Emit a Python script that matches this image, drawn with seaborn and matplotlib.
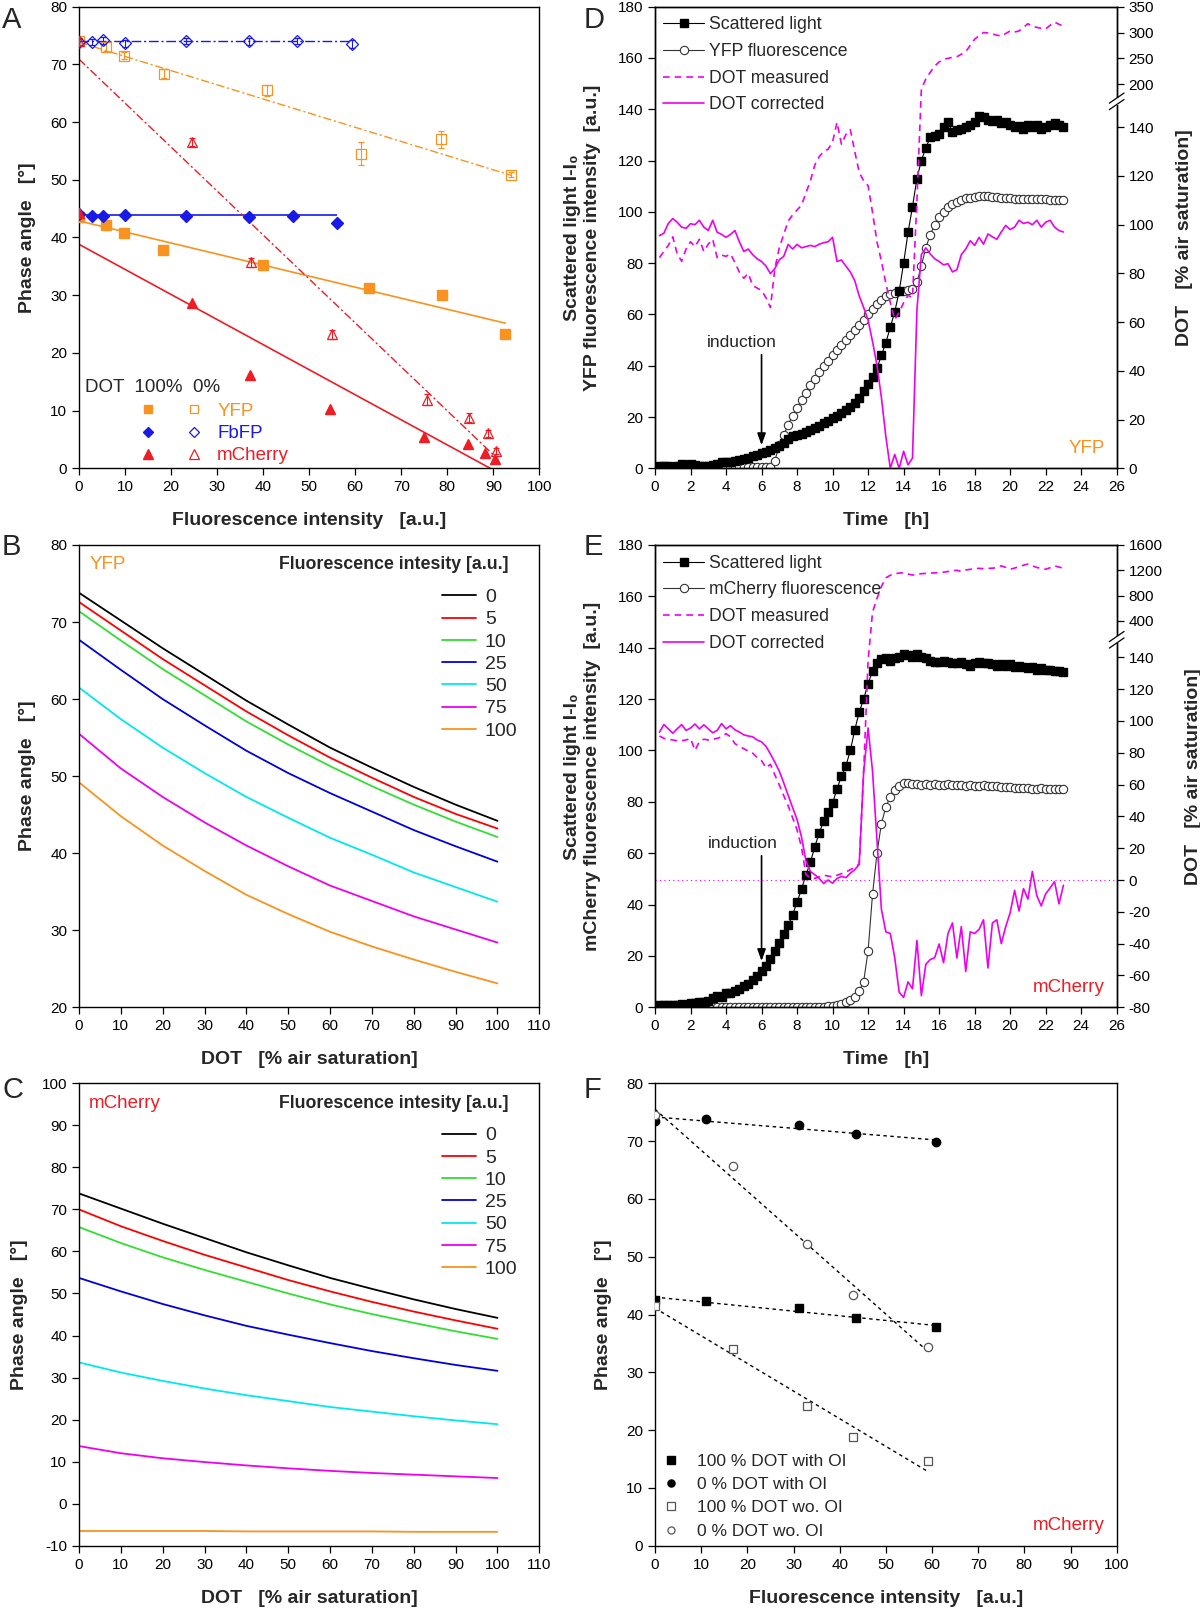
import numpy as np
import pandas as pd
import matplotlib
matplotlib.use("Agg")
import matplotlib.pyplot as plt
import seaborn as sns
from matplotlib.lines import Line2D
from matplotlib.patches import Rectangle
from matplotlib.legend_handler import HandlerTuple
from matplotlib.ticker import NullLocator

# =====================================================
# DATA
# =====================================================
# --- Panel A: phase angle vs. fluorescence intensity (100 % / 0 % DOT)
yfp_x_100 = [0, 5.8, 9.7, 18.2, 40.0, 63.1, 78.9, 92.6]
yfp_y_100 = [43.6, 42.1, 40.7, 37.9, 35.2, 31.2, 30.0, 23.3]
yfp_x_0 = [0, 5.8, 9.7, 18.5, 40.9, 61.2, 78.6, 93.9]
yfp_y_0 = [74.0, 73.1, 71.5, 68.4, 65.5, 54.5, 57.0, 50.9]
yfp_err_0 = [0.6, 0.8, 0.6, 0.8, 0.9, 2.0, 1.5, 0.5]

fbfp_x_100 = [0, 2.8, 5.3, 10.0, 23.2, 37.0, 46.5, 56.1]
fbfp_y_100 = [44.0, 43.7, 43.8, 43.9, 43.8, 43.5, 43.7, 42.5]
fbfp_x_0 = [0, 2.8, 5.3, 10.0, 23.2, 37.0, 47.3, 59.4]
fbfp_y_0 = [73.9, 73.9, 74.2, 73.7, 74.1, 74.0, 74.0, 73.6]
fbfp_err_0 = [0.5, 0.5, 0.6, 0.6, 0.5, 0.6, 0.5, 0.7]
fbfp_level_100 = 43.9
fbfp_level_0 = 74.0

mch_x_100 = [0, 24.5, 37.1, 54.5, 75.0, 84.6, 88.3, 90.4]
mch_y_100 = [44.2, 28.7, 16.1, 10.3, 5.4, 4.2, 2.6, 1.6]
mch_x_0 = [0, 24.5, 37.4, 54.9, 75.7, 84.8, 88.8, 90.7]
mch_y_0 = [74.0, 56.6, 35.7, 23.2, 11.9, 8.8, 6.1, 3.0]
mch_err_0 = [0.6, 0.7, 0.8, 0.8, 0.9, 0.7, 0.6, 0.6]

# --- Panels B / C: calibration curves phase angle vs DOT
dot_grid = [0, 10, 20, 30, 40, 50, 60, 70, 80, 90, 100]
levels = ['0', '5', '10', '25', '50', '75', '100']
level_colors = ['#000000', '#FF0000', '#33DD33', '#0000DD', '#00E8EE', '#EE00EE', '#F7931E']

yfp_0 = [73.8, 70.2, 66.6, 63.2, 59.8, 56.7, 53.7, 51.1, 48.6, 46.3, 44.2]
yfp_5 = [72.6, 68.9, 65.2, 61.8, 58.4, 55.3, 52.4, 49.8, 47.3, 45.1, 43.2]
yfp_10 = [71.4, 67.6, 63.9, 60.5, 57.1, 54.1, 51.3, 48.7, 46.3, 44.1, 42.1]
yfp_25 = [67.7, 63.8, 60.0, 56.6, 53.3, 50.4, 47.8, 45.4, 43.0, 40.9, 38.9]
yfp_50 = [61.5, 57.4, 53.7, 50.4, 47.3, 44.6, 42.0, 39.8, 37.5, 35.6, 33.7]
yfp_75 = [55.5, 51.0, 47.3, 44.0, 41.0, 38.3, 35.8, 33.8, 31.8, 30.1, 28.4]
yfp_100 = [49.2, 44.8, 41.0, 37.7, 34.6, 32.1, 29.8, 27.9, 26.2, 24.6, 23.1]

mch_0 = [73.8, 70.2, 66.6, 63.2, 59.8, 56.7, 53.7, 51.1, 48.6, 46.3, 44.2]
mch_5 = [70.0, 66.0, 62.5, 59.2, 56.2, 53.2, 50.5, 48.0, 45.7, 43.6, 41.6]
mch_10 = [65.8, 62.0, 58.6, 55.6, 52.8, 50.0, 47.4, 45.1, 43.0, 41.0, 39.2]
mch_25 = [53.7, 50.5, 47.5, 44.8, 42.3, 40.2, 38.2, 36.3, 34.6, 33.0, 31.6]
mch_50 = [33.6, 31.2, 29.2, 27.4, 25.8, 24.4, 23.0, 21.9, 20.8, 19.8, 18.9]
mch_75 = [13.7, 12.0, 10.8, 9.9, 9.1, 8.4, 7.8, 7.3, 6.9, 6.5, 6.1]
mch_100 = [-6.5, -6.5, -6.5, -6.5, -6.6, -6.6, -6.6, -6.6, -6.7, -6.7, -6.7]

# --- Panels D / E: cultivation time courses, sampled every 15 min
time_h = np.arange(1, 93) * 0.25

sl_d = [1.0, 1.0, 0.8, 0.6, 1.0, 1.5, 1.1, 1.8, 1.3, 1.0, 1.0, 0.9,
        1.2, 1.6, 2.4, 2.4, 2.3, 2.8, 3.2, 3.7, 4.2, 4.7, 5.3, 6.0,
        6.5, 7.1, 7.8, 8.7, 9.8, 11.5, 12.5, 12.9, 13.5, 14.2, 14.9, 15.7,
        16.5, 17.5, 18.5, 19.5, 20.5, 21.5, 22.7, 24.0, 25.5, 27.5, 30.0, 33.0,
        35.5, 39.0, 44.0, 49.0, 55.0, 61.0, 69.0, 80.0, 92.0, 102.0, 113.0, 120.0,
        125.0, 129.0, 129.5, 130.5, 133.0, 135.0, 131.0, 132.0, 132.5, 133.0, 134.0, 135.0,
        137.5, 137.0, 136.0, 135.5, 136.0, 134.5, 135.0, 134.0, 133.0, 133.5, 132.5, 134.0,
        133.0, 134.0, 132.5, 133.0, 134.0, 134.5, 134.0, 133.0]
fl_d = [0.4, 0.4, 0.4, 0.4, 0.4, 0.4, 0.4, 0.4, 0.4, 0.4, 0.4, 0.4,
        0.4, 0.4, 0.4, 0.4, 0.4, 0.4, 0.4, 0.4, 0.4, 0.4, 0.4, 0.4,
        0.4, 0.5, 3.0, 9.0, 13.0, 17.0, 20.5, 23.5, 26.5, 29.5, 32.5, 35.0,
        37.5, 40.0, 42.0, 44.0, 46.0, 48.0, 50.0, 52.0, 54.0, 56.0, 58.0, 60.0,
        62.0, 64.0, 65.5, 67.0, 67.8, 68.5, 69.0, 69.2, 69.5, 69.8, 72.5, 79.0,
        86.0, 91.0, 95.0, 98.0, 100.0, 101.8, 103.0, 104.0, 104.8, 105.3, 105.5, 105.8,
        106.0, 106.2, 106.0, 105.8, 105.6, 105.5, 105.4, 105.3, 105.2, 105.0, 105.1, 105.2,
        105.0, 104.9, 105.0, 104.9, 104.8, 104.6, 104.7, 104.8]
dot_meas_d = [86.5, 89.0, 91.5, 95.0, 88.0, 85.0, 90.0, 93.0, 91.0, 94.0, 89.0, 92.0,
              94.0, 86.5, 87.5, 87.0, 88.0, 84.5, 80.5, 78.0, 80.0, 75.0, 74.0, 73.0,
              70.0, 66.0, 82.0, 90.5, 96.0, 101.5, 104.0, 106.0, 108.0, 113.0, 118.0, 124.5,
              128.0, 130.0, 131.0, 134.0, 142.0, 133.0, 137.0, 139.0, 130.0, 121.5, 118.0, 116.0,
              105.0, 93.0, 85.0, 76.0, 68.0, 61.0, 64.0, 68.0, 71.0, 70.0, 110.0, 187.0,
              210.0, 223.0, 235.0, 243.0, 248.0, 250.0, 252.0, 253.0, 258.0, 263.0, 275.0, 287.0,
              294.0, 300.0, 299.0, 297.0, 295.0, 293.0, 298.0, 303.0, 301.0, 303.0, 310.0, 317.0,
              312.0, 310.0, 308.0, 307.0, 314.0, 320.0, 316.0, 312.0]
dot_corr_d = [95.5, 96.5, 100.5, 102.5, 101.0, 99.0, 98.5, 100.4, 100.0, 101.8, 99.0, 97.6,
              101.8, 96.9, 96.0, 94.8, 96.0, 97.6, 93.0, 89.0, 90.0, 87.7, 86.0, 84.9,
              83.0, 79.9, 82.0, 85.6, 87.0, 91.9, 90.0, 91.9, 90.5, 91.0, 91.5, 91.0,
              92.0, 92.6, 93.0, 94.8, 84.9, 85.5, 83.0, 80.6, 77.0, 70.7, 66.0, 60.8,
              52.0, 42.4, 29.0, 13.0, 0.0, 5.7, 0.0, 7.0, 1.4, 4.2, 65.0, 87.7,
              90.5, 88.0, 86.0, 84.9, 83.5, 84.0, 80.6, 81.5, 87.7, 90.0, 93.4, 91.5,
              94.8, 92.0, 96.2, 95.0, 94.0, 97.0, 99.7, 98.0, 99.0, 101.8, 100.5, 101.0,
              100.0, 101.8, 99.0, 101.0, 101.8, 99.0, 97.6, 97.0]

sl_e = [0.8, 0.9, 1.0, 0.9, 1.0, 1.2, 1.0, 1.5, 1.8, 2.0, 2.2, 2.5,
        3.5, 4.5, 4.0, 5.5, 5.5, 6.5, 7.2, 8.2, 9.2, 10.5, 12.0, 14.0,
        16.2, 19.0, 22.0, 25.0, 28.5, 32.0, 36.0, 41.0, 46.0, 51.5, 56.5, 62.5,
        68.0, 72.5, 76.0, 79.5, 85.0, 90.0, 94.0, 100.0, 108.0, 115.0, 120.0, 126.0,
        131.0, 134.0, 135.5, 136.0, 135.0, 136.0, 136.5, 137.5, 137.0, 136.5, 137.5, 136.5,
        136.0, 135.0, 134.5, 134.5, 135.0, 134.5, 134.0, 134.0, 134.5, 133.5, 133.0, 134.0,
        134.5, 134.0, 134.0, 133.5, 133.0, 133.5, 133.0, 133.5, 132.5, 133.0, 132.5, 132.0,
        132.5, 131.5, 132.0, 131.5, 131.5, 131.0, 131.0, 130.5]
fl_e = [0.3, 0.3, 0.3, 0.3, 0.3, 0.3, 0.3, 0.3, 0.3, 0.3, 0.3, 0.3,
        0.3, 0.3, 0.3, 0.3, 0.3, 0.3, 0.3, 0.3, 0.3, 0.3, 0.3, 0.3,
        0.3, 0.3, 0.3, 0.3, 0.3, 0.3, 0.3, 0.3, 0.3, 0.3, 0.3, 0.3,
        0.3, 0.3, 0.4, 0.5, 0.8, 1.3, 2.0, 2.8, 4.0, 6.5, 10.0, 22.0,
        44.0, 60.0, 71.5, 78.0, 82.0, 84.5, 86.0, 87.5, 87.5, 87.0, 86.8, 86.5,
        87.0, 86.5, 86.8, 86.6, 86.5, 86.8, 86.5, 86.7, 86.5, 86.3, 86.6, 86.3,
        86.2, 86.4, 86.0, 86.1, 86.0, 85.9, 85.8, 85.8, 85.5, 85.4, 85.2, 85.2,
        85.1, 85.0, 85.2, 85.0, 85.0, 85.1, 85.0, 85.0]
dot_meas_e = [90.5, 89.0, 88.5, 88.0, 87.5, 87.5, 88.0, 89.0, 81.5, 87.0, 88.5, 88.0,
              88.5, 89.0, 90.0, 92.0, 90.0, 85.7, 84.0, 82.5, 81.0, 79.7, 77.0, 75.0,
              70.5, 72.7, 66.0, 59.7, 53.0, 46.7, 39.0, 31.5, 20.6, 3.3, 1.5, 1.0,
              2.0, 3.0, 2.5, 2.0, 3.0, 4.0, 5.0, 6.5, 8.0, 10.0, 68.0, 138.0,
              536.0, 754.0, 944.0, 1080.0, 1120.0, 1146.0, 1155.0, 1162.0, 1140.0, 1124.0, 1135.0, 1146.0,
              1150.0, 1155.0, 1158.0, 1162.0, 1170.0, 1180.0, 1190.0, 1200.0, 1180.0, 1205.0, 1215.0, 1227.0,
              1230.0, 1225.0, 1230.0, 1233.0, 1240.0, 1270.0, 1245.0, 1216.0, 1235.0, 1255.0, 1280.0, 1298.0,
              1270.0, 1244.0, 1230.0, 1216.0, 1240.0, 1270.0, 1250.0, 1233.0]
dot_corr_e = [92.9, 97.7, 95.0, 92.2, 95.0, 97.7, 94.0, 95.5, 98.0, 95.0, 97.5, 95.0,
              92.5, 94.0, 98.3, 95.0, 97.0, 94.4, 93.0, 91.2, 90.5, 90.0, 88.0, 86.8,
              84.0, 79.2, 74.0, 68.4, 61.0, 53.2, 45.5, 38.0, 27.0, 12.0, 5.4, 3.3,
              1.0, -2.2, 0.0, -2.0, 1.0, 2.2, 1.5, 4.3, 6.5, 9.8, 68.0, 95.5,
              68.4, 25.0, -18.4, -32.6, -33.6, -48.8, -70.5, -73.8, -64.0, -68.4, -38.0, -72.7,
              -53.0, -50.0, -48.8, -40.2, -52.0, -33.6, -27.0, -49.0, -29.3, -57.5, -32.6, -33.6,
              -31.0, -25.0, -55.3, -27.0, -25.0, -40.0, -29.3, -20.6, -6.5, -19.5, -5.4, -12.0,
              5.4, -9.8, -16.3, -8.7, -5.0, -1.0, -15.0, -3.3]

# --- Panel F: mCherry with / without optical isolation (OI)
f_x_oi = [0, 11.0, 31.1, 43.6, 60.8]
f_y100_oi = [42.5, 42.4, 41.1, 39.4, 37.8]
f_y0_oi = [73.5, 73.9, 72.8, 71.3, 69.8]
f_x_wo = [0, 16.8, 32.9, 42.8, 59.1]
f_y100_wo = [41.5, 34.0, 24.1, 18.8, 14.6]
f_y0_wo = [74.5, 65.7, 52.2, 43.4, 34.3]

# =====================================================
# STYLE
# =====================================================
sns.set_style("ticks")
plt.rcParams['font.family'] = ['Liberation Sans', 'DejaVu Sans']
plt.rcParams['axes.unicode_minus'] = False

ORANGE = '#F7931E'
BLUE = '#1A1AE6'
RED = '#EE1C25'
MAGENTA = '#EE00EE'
TICK_FS = 11
LABEL_FS = 14
SPECIES_FS = 13.5

W, H = 1200, 1614
fig = plt.figure(figsize=(12, 16.14), dpi=100)


def rect(l, t, r, b):
    return [l / W, 1 - b / H, (r - l) / W, (b - t) / H]


def style(ax):
    for s in ax.spines.values():
        s.set_visible(True)
        s.set_linewidth(1.0)
        s.set_color('black')
    ax.tick_params(direction='out', length=5, width=0.9, labelsize=TICK_FS,
                   colors='black', top=False, right=False)
    ax.xaxis.set_minor_locator(NullLocator())
    ax.yaxis.set_minor_locator(NullLocator())


def labels(ax, xl, yl, ypad=10):
    ax.set_xlabel(xl, fontsize=LABEL_FS, fontweight='bold', labelpad=13)
    ax.set_ylabel(yl, fontsize=LABEL_FS, fontweight='bold', labelpad=ypad)


def fit_line(ax, x, y, color, ls, lw):
    sns.regplot(x=np.asarray(x, float), y=np.asarray(y, float), ax=ax, scatter=False,
                ci=None, truncate=True, line_kws=dict(color=color, lw=lw, ls=ls))


axA = fig.add_axes(rect(79, 6.7, 539.3, 468.3))
axD = fig.add_axes(rect(655, 6.7, 1116.7, 468.3))
axB = fig.add_axes(rect(79, 545, 539.3, 1007.3))
axE = fig.add_axes(rect(655, 545, 1116.7, 1007.3))
axC = fig.add_axes(rect(79, 1083.3, 539.3, 1545.7))
axF = fig.add_axes(rect(655, 1083.3, 1116.7, 1545.7))

# =====================================================
# PANEL A
# =====================================================
dashdot = (0, (6, 2, 1.5, 2))
fit_line(axA, yfp_x_100, yfp_y_100, ORANGE, '-', 1.2)
fit_line(axA, yfp_x_0, yfp_y_0, ORANGE, dashdot, 1.0)
axA.hlines(fbfp_level_100, 0, max(fbfp_x_100), color=BLUE, lw=1.2)
axA.hlines(fbfp_level_0, 0, max(fbfp_x_0), color=BLUE, lw=1.0, ls=(0, (7, 2, 1.5, 2)))
fit_line(axA, mch_x_100, mch_y_100, RED, '-', 1.2)
fit_line(axA, mch_x_0, mch_y_0, RED, dashdot, 1.0)

series_A = [
    (yfp_x_100, yfp_y_100, yfp_x_0, yfp_y_0, yfp_err_0, ORANGE, 's', 6.5),
    (fbfp_x_100, fbfp_y_100, fbfp_x_0, fbfp_y_0, fbfp_err_0, BLUE, 'D', 6.0),
    (mch_x_100, mch_y_100, mch_x_0, mch_y_0, mch_err_0, RED, '^', 7.5),
]
for x1, y1, x0, y0, e0, c, mk, ms in series_A:
    axA.plot(x1, y1, ls='none', marker=mk, color=c, ms=ms, zorder=4)
    axA.errorbar(x0, y0, yerr=e0, fmt=mk, mfc='none', mec=c, ecolor=c, ms=ms,
                 mew=0.9, elinewidth=0.8, capsize=2.5, zorder=4)

axA.set_xlim(0, 100)
axA.set_ylim(0, 80)
axA.set_xticks(range(0, 101, 10))
axA.set_yticks(range(0, 81, 10))
style(axA)
labels(axA, 'Fluorescence intensity   [a.u.]', 'Phase angle   [°]')

handles = []
for c, mk, ms in [(ORANGE, 's', 6.0), (BLUE, 'D', 5.5), (RED, '^', 7.0)]:
    hf = Line2D([], [], ls='none', marker=mk, color=c, ms=ms)
    ho = Line2D([], [], ls='none', marker=mk, mfc='none', mec=c, ms=ms, mew=0.9)
    handles.append((hf, ho))
legA = axA.legend(handles, ['YFP', 'FbFP', 'mCherry'],
                  handler_map={tuple: HandlerTuple(ndivide=None, pad=1.45)},
                  loc='upper left', bbox_to_anchor=(0.13, 0.142), frameon=False,
                  fontsize=SPECIES_FS, handlelength=3.45, handletextpad=0.73,
                  labelspacing=0.27, borderpad=0, borderaxespad=0)
for txt, c in zip(legA.get_texts(), [ORANGE, BLUE, RED]):
    txt.set_color(c)
axA.text(0.013, 0.175, 'DOT  100%  0%', transform=axA.transAxes,
         fontsize=SPECIES_FS, va='center', ha='left')

# =====================================================
# PANELS B / C
# =====================================================
def calib_panel(ax, curves, species, color, ylim, yticks):
    rows = []
    for lev, vals in zip(levels, curves):
        for d, v in zip(dot_grid, vals):
            rows.append({'DOT': d, 'phase': v, 'level': lev})
    df = pd.DataFrame(rows)
    sns.lineplot(data=df, x='DOT', y='phase', hue='level', hue_order=levels,
                 palette=dict(zip(levels, level_colors)), ax=ax, legend=False,
                 lw=1.3, estimator=None, sort=False)
    ax.set_xlim(0, 110)
    ax.set_ylim(*ylim)
    ax.set_xticks(range(0, 111, 10))
    ax.set_yticks(yticks)
    style(ax)
    labels(ax, 'DOT   [% air saturation]', 'Phase angle   [°]')
    ax.legend(ax.get_lines()[:len(levels)], levels, loc='upper left',
              bbox_to_anchor=(0.789, 0.906), frameon=False, fontsize=14,
              handlelength=1.75, handletextpad=0.45, labelspacing=0.24,
              borderpad=0, borderaxespad=0)
    ax.text(0.934, 0.957, 'Fluorescence intesity [a.u.]', transform=ax.transAxes,
            ha='right', va='center', fontsize=12.8, fontweight='bold')
    ax.text(0.022, 0.957, species, transform=ax.transAxes, ha='left', va='center',
            fontsize=SPECIES_FS, color=color)


calib_panel(axB, [yfp_0, yfp_5, yfp_10, yfp_25, yfp_50, yfp_75, yfp_100],
            'YFP', ORANGE, (20, 80), range(20, 81, 10))
calib_panel(axC, [mch_0, mch_5, mch_10, mch_25, mch_50, mch_75, mch_100],
            'mCherry', RED, (-10, 100), range(-10, 101, 10))

# =====================================================
# PANELS D / E
# =====================================================
def time_panel(ax, sl, fl, dm, dc, fl_name, src, dst, rlim, rticks,
               species, color, ind_text, ind_from, ind_to, zero_line=False):
    h_fl, = ax.plot(time_h, fl, color='#333333', lw=0.8, marker='o', ms=6,
                    mfc='white', mec='#333333', mew=0.8)
    h_sl, = ax.plot(time_h, sl, color='black', lw=0.8, marker='s', ms=5.2,
                    mfc='black', mec='black')
    ax.set_xlim(0, 26)
    ax.set_ylim(0, 180)
    ax.set_xticks(range(0, 27, 2))
    ax.set_yticks(range(0, 181, 20))
    style(ax)
    labels(ax, 'Time   [h]',
           'Scattered light I-I₀\n' + fl_name + ' fluorescence intensity  [a.u.]', ypad=12)

    ax2 = ax.twinx()
    fwd = lambda v: np.interp(v, src, dst)
    inv = lambda u: np.interp(u, dst, src)
    ax2.set_yscale('function', functions=(fwd, inv))
    ax2.set_ylim(*rlim)
    if zero_line:
        ax2.axhline(0, color=MAGENTA, lw=0.8, ls=(0, (1, 3)))
    h_dm, = ax2.plot(time_h, dm, color=MAGENTA, lw=1.2, ls=(0, (4, 3)))
    h_dc, = ax2.plot(time_h, dc, color=MAGENTA, lw=1.2)
    ax2.set_yticks(rticks, labels=[str(v) for v in rticks])
    for s in ax2.spines.values():
        s.set_linewidth(1.0)
        s.set_color('black')
    ax2.tick_params(direction='out', length=5, width=0.9, labelsize=TICK_FS,
                    colors='black', right=True, left=False)
    ax2.yaxis.set_minor_locator(NullLocator())
    ax2.set_ylabel('DOT   [% air saturation]', fontsize=LABEL_FS,
                   fontweight='bold', labelpad=16)

    # axis break on the right spine
    yb = 0.795
    ax2.add_patch(Rectangle((0.99, yb - 0.008), 0.02, 0.016, transform=ax2.transAxes,
                            facecolor='white', edgecolor='none', clip_on=False, zorder=5))
    for dy in (-0.007, 0.007):
        ax2.plot([0.984, 1.016], [yb + dy - 0.011, yb + dy + 0.011],
                 transform=ax2.transAxes, color='black', lw=0.9, clip_on=False, zorder=6)

    ax2.legend([h_sl, h_fl, h_dm, h_dc],
               ['Scattered light', fl_name + ' fluorescence', 'DOT measured', 'DOT corrected'],
               loc='upper left', bbox_to_anchor=(0.018, 0.979), frameon=False,
               fontsize=12.7, handlelength=2.3, handletextpad=0.3, labelspacing=0.55,
               borderpad=0, borderaxespad=0)

    ax.text(ind_text[0], ind_text[1], 'induction', ha='center', va='center', fontsize=12.5)
    ax.annotate('', xy=ind_to, xytext=ind_from,
                arrowprops=dict(arrowstyle='-|>,head_length=0.5,head_width=0.18',
                                color='black', lw=1.2, mutation_scale=14,
                                shrinkA=0, shrinkB=0))
    ax.text(0.975, 0.025, species, transform=ax.transAxes, ha='right', va='bottom',
            fontsize=SPECIES_FS, color=color)


time_panel(axD, sl_d, fl_d, dot_meas_d, dot_corr_d, 'YFP',
           [0, 150, 200, 350], [0, 142.5, 149.8, 180], (0, 350),
           [0, 20, 40, 60, 80, 100, 120, 140, 200, 250, 300, 350],
           'YFP', ORANGE, (4.9, 49), (6.0, 44.3), (6.0, 9.0))
time_panel(axE, sl_e, fl_e, dot_meas_e, dot_corr_e, 'mCherry',
           [-80, 150, 400, 1600], [0, 142.5, 150.5, 180], (-80, 1600),
           [-80, -60, -40, -20, 0, 20, 40, 60, 80, 100, 120, 140, 400, 800, 1200, 1600],
           'mCherry', RED, (4.93, 63.8), (6.0, 59.0), (6.0, 18.0), zero_line=True)

# =====================================================
# PANEL F
# =====================================================
dotted = (0, (2.5, 2.5))
for x, y in [(f_x_oi, f_y100_oi), (f_x_oi, f_y0_oi), (f_x_wo, f_y100_wo), (f_x_wo, f_y0_wo)]:
    fit_line(axF, x, y, 'black', dotted, 1.0)
hF1, = axF.plot(f_x_oi, f_y100_oi, ls='none', marker='s', color='black', ms=6, zorder=4)
hF2, = axF.plot(f_x_oi, f_y0_oi, ls='none', marker='o', color='black', ms=6, zorder=4)
hF3, = axF.plot(f_x_wo, f_y100_wo, ls='none', marker='s', mfc='white', mec='#555555',
                mew=0.9, ms=6, zorder=4)
hF4, = axF.plot(f_x_wo, f_y0_wo, ls='none', marker='o', mfc='white', mec='#555555',
                mew=0.9, ms=6, zorder=4)
axF.set_xlim(0, 100)
axF.set_ylim(0, 80)
axF.set_xticks(range(0, 101, 10))
axF.set_yticks(range(0, 81, 10))
style(axF)
labels(axF, 'Fluorescence intensity   [a.u.]', 'Phase angle   [°]')
axF.legend([hF1, hF2, hF3, hF4],
           ['100 % DOT with OI', '0 % DOT with OI', '100 % DOT wo. OI', '0 % DOT wo. OI'],
           loc='lower left', frameon=False, fontsize=12.5, handlelength=1.0,
           handletextpad=1.0, labelspacing=0.47, borderpad=0, borderaxespad=0.4,
           markerscale=0.85)
axF.text(0.975, 0.025, 'mCherry', transform=axF.transAxes, ha='right', va='bottom',
         fontsize=SPECIES_FS, color=RED)

# =====================================================
# PANEL LETTERS
# =====================================================
for letter, x, top in [('A', 2, 6), ('B', 2, 533), ('C', 2, 1076),
                       ('D', 584, 6), ('E', 584, 533), ('F', 584, 1076)]:
    fig.text(x / W, 1 - top / H, letter, fontsize=21, ha='left', va='top')

fig.savefig('out.png', dpi=100)
